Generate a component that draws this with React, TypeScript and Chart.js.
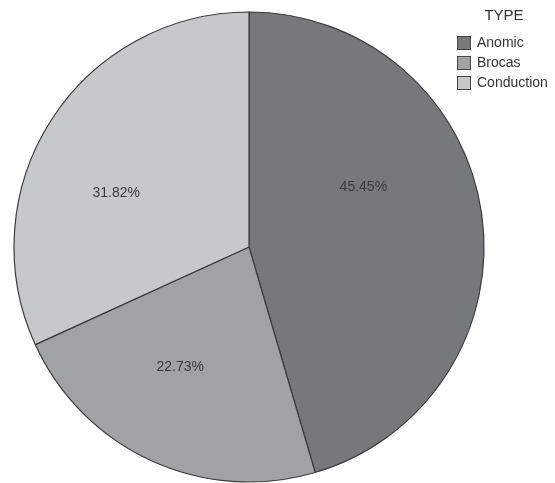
import React, { useEffect, useRef } from "react";
import { Chart, registerables } from "chart.js";

Chart.register(...registerables);

const categories = ["Anomic", "Brocas", "Conduction"];
const counts = [10, 5, 7];
const percentLabels = ["45.45%", "22.73%", "31.82%"];
const legendTitle = "TYPE";
const sliceColors = ["#76797c", "#a0a3a6", "#c6c9cc"];

const labelPlugin = {
  id: "sliceLabels",
  afterDatasetsDraw(chart: any, _args: any, opts: any) {
    const ctx = chart.ctx;
    const meta = chart.getDatasetMeta(0);
    ctx.save();
    ctx.font = "14px 'Liberation Sans', Arial, sans-serif";
    ctx.fillStyle = "#3a3a3a";
    ctx.textAlign = "center";
    ctx.textBaseline = "middle";
    meta.data.forEach((arc: any, i: number) => {
      const p = arc.getProps(["x", "y", "startAngle", "endAngle", "outerRadius"], true);
      const mid = (p.startAngle + p.endAngle) / 2 + (opts.angleShift[i] * Math.PI) / 180;
      const r = p.outerRadius * opts.radial[i];
      ctx.fillText(percentLabels[i], p.x + Math.cos(mid) * r, p.y + Math.sin(mid) * r);
    });
    ctx.restore();
  },
};

const legendPlugin = {
  id: "typeLegend",
  afterDraw(chart: any, _args: any, opts: any) {
    const ctx = chart.ctx;
    ctx.save();
    ctx.fillStyle = "#333333";
    ctx.font = "15px 'Liberation Sans', Arial, sans-serif";
    ctx.textAlign = "center";
    ctx.textBaseline = "middle";
    ctx.fillText(legendTitle, opts.titleX, opts.titleY);
    ctx.font = "14px 'Liberation Sans', Arial, sans-serif";
    ctx.textAlign = "left";
    categories.forEach((c, i) => {
      const y = opts.rowY + i * opts.rowGap;
      ctx.fillStyle = sliceColors[i];
      ctx.fillRect(opts.boxX, y - opts.box / 2, opts.box, opts.box);
      ctx.strokeStyle = "#444444";
      ctx.lineWidth = 1;
      ctx.strokeRect(opts.boxX + 0.5, y - opts.box / 2 + 0.5, opts.box - 1, opts.box - 1);
      ctx.fillStyle = "#333333";
      ctx.fillText(c, opts.boxX + opts.box + opts.gap, y);
    });
    ctx.restore();
  },
};

export default function App() {
  const ref = useRef<HTMLCanvasElement>(null);
  useEffect(() => {
    if (!ref.current) return;
    const chart = new Chart(ref.current, {
      type: "pie",
      data: {
        labels: categories,
        datasets: [
          {
            data: counts,
            backgroundColor: sliceColors,
            borderColor: "#3c3c3c",
            borderWidth: 1.2,
          },
        ],
      },
      options: {
        responsive: false,
        animation: false,
        radius: 235,
        layout: { padding: { left: 10, right: 67, top: 11, bottom: 0 } },
        plugins: {
          legend: { display: false },
          tooltip: { enabled: false },
          sliceLabels: { angleShift: [-19.6, 5.2, -10.6], radial: [0.55, 0.59, 0.61] },
          typeLegend: { titleX: 504, titleY: 16, boxX: 457, box: 14, gap: 6, rowY: 43, rowGap: 20 },
        } as any,
      },
      plugins: [labelPlugin, legendPlugin],
    });
    return () => chart.destroy();
  }, []);
  return (
    <div style={{ position: "fixed", left: 0, top: 0, width: 555, height: 483, background: "#fff" }}>
      <canvas ref={ref} width={555} height={483} />
    </div>
  );
}
